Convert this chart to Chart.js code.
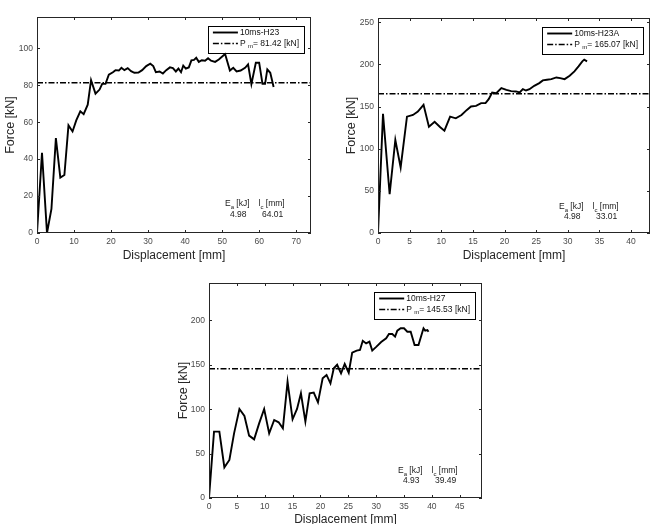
<!DOCTYPE html>
<html><head><meta charset="utf-8">
<script src="https://cdn.jsdelivr.net/npm/chart.js@4.4.0/dist/chart.umd.min.js"></script>
<style>
html,body{margin:0;padding:0;background:#fff;overflow:hidden;width:653px;height:524px;position:relative;}
canvas{position:absolute;}
</style></head><body>
<canvas id="c1"></canvas><canvas id="c2"></canvas><canvas id="c3"></canvas>
<script>
// ---------------- data ----------------
const seriesNames = ['10ms-H23', '10ms-H23A', '10ms-H27'];

const h23Disp  = [0,1.35,2.7,3.9,5.1,6.3,7.4,8.5,9.6,10.6,11.7,12.6,13.7,14.6,15.8,16.9,17.6,18.5,19.4,20.5,21.2,22.1,22.8,23.6,24.5,25.4,26.3,27.4,28.4,29.5,30.6,31.4,32.1,33.1,34.0,34.9,35.9,36.7,37.5,38.2,38.9,39.5,40.2,41.0,41.7,42.4,43.0,43.7,44.5,45.4,46.2,47.0,48.1,49.1,50.8,52.1,53.0,53.9,55.0,56.2,57.0,57.9,59.1,60.0,60.9,61.6,62.2,63.0,63.9];
const h23Force = [0,43.5,0,13,51.4,30,31.4,58.3,55,61,65.9,64.4,69.5,82.8,75.5,77.7,80.8,80.8,85.8,87.1,88.2,88,89.5,88.2,89.3,87.7,86.8,86.9,88.2,90.4,91.7,90.4,87.1,87.5,86.4,88.2,89.7,89.3,87.5,89.1,87.1,90.7,89.1,89.7,93.5,93.8,94.9,92.7,93.6,93.3,94.7,93.3,92.7,94.0,97.0,88.0,89.5,87.5,88.0,89.5,91.3,80.6,92.2,92.2,80.8,80.8,88.6,86.8,79.1];

const h23aDisp  = [0,0.79,1.84,2.74,3.58,4.58,5.53,6.3,7.2,8.05,8.95,9.84,10.5,11.4,12.3,13.2,14.05,14.7,15.5,16.3,17.0,17.5,18.05,18.7,19.5,20.3,21.05,21.8,22.4,22.9,23.4,23.95,24.7,25.5,26.05,26.7,27.4,28.2,28.8,29.5,30.3,31.05,31.7,32.3,32.6,33.05];
const h23aForce = [0,141.3,46,110.3,77.8,138,140,144,152,126,132,125.4,121.4,138,136,140,146,150,150.8,154,154,158.7,166.7,165.9,171.8,169.8,168.3,167.9,166.7,170.6,169,170.6,174.6,177.8,181,181.7,182.5,184.5,183.7,182.5,186.5,191.7,197.6,203.6,205.6,203.6];

const h27Disp  = [0,0.9,1.86,2.76,3.66,4.5,5.46,6.36,7.2,8.1,9.0,9.9,10.8,11.7,12.5,13.26,14.1,15.0,15.8,16.5,17.3,18.06,18.8,19.56,20.4,21.1,21.8,22.4,23.0,23.7,24.36,25.08,25.7,26.5,27.1,27.6,28.2,28.8,29.3,30.06,30.9,31.8,32.3,32.9,33.4,33.8,34.4,35.0,35.6,36.2,36.9,37.6,38.5,38.8,39.2,39.4];
const h27Force = [0,74.7,74.7,34.5,42.8,72.8,100.2,92.3,70.2,66,84,100.2,72.8,87.8,85.2,78.4,131,88.6,100.2,117.8,86,117.8,118.6,107.7,134.7,138.5,129,146,150,140.3,150.8,141,163.6,165.9,166.6,177,174,176,165.9,170.4,175.6,179.7,184.6,184.6,181.6,188.4,191,191,187.2,187.2,172.2,172.2,191,188.4,189,187.2];

const meanForce      = [81.42, 165.07, 145.53];   // P_m [kN]
const absorbedEnergy = ['4.98', '4.98', '4.93'];  // E_a [kJ]
const crushLength    = ['64.01', '33.01', '39.49']; // l_c [mm]

const xTicks1 = [0,10,20,30,40,50,60,70];
const yTicks1 = [0,20,40,60,80,100];
const xTicks2 = [0,5,10,15,20,25,30,35,40];
const yTicks2 = [0,50,100,150,200,250];
const xTicks3 = [0,5,10,15,20,25,30,35,40,45];
const yTicks3 = [0,50,100,150,200];

const xMax = [74, 43, 49];
const yMax = [117, 255, 242];

// ---------------- layout (pixels) ----------------
const FONT = '"Liberation Sans", Arial, Helvetica, sans-serif';
const layouts = [
  {id:'c1', left:0,   top:0,   w:330, h:263, area:{l:37,  t:17,  r:311, b:233}, yTitlePad:3.1,  ann:{dx:86, dy1:29, dy2:18}},
  {id:'c2', left:330, top:0,   w:323, h:263, area:{l:378, t:18,  r:650, b:233}, yTitlePad:14.1, ann:{dx:91, dy1:26, dy2:16}},
  {id:'c3', left:170, top:262, w:330, h:265, area:{l:209, t:283, r:482, b:498}, yTitlePad:6.1,  ann:{dx:84, dy1:27, dy2:17}}
];

const MAIN_PX = 8.5, SUB_PX = 6;
function subText(ctx, x, y, parts) {
  let cx = x;
  for (const [t, sub] of parts) {
    ctx.font = (sub ? SUB_PX : MAIN_PX) + 'px ' + FONT;
    ctx.fillText(t, cx, sub ? y + 3 : y);
    cx += ctx.measureText(t).width;
  }
  return cx - x;
}
function partsWidth(ctx, parts) {
  let w = 0;
  for (const [t, sub] of parts) { ctx.font = (sub ? SUB_PX : MAIN_PX) + 'px ' + FONT; w += ctx.measureText(t).width; }
  return w;
}

const matlabPlugin = {
  id: 'matlabFrame',
  afterDraw(chart, args, opts) {
    const {ctx, chartArea: a, scales: {x, y}} = chart;
    ctx.save();
    // frame and inward ticks on all four sides
    ctx.strokeStyle = '#262626';
    ctx.lineWidth = 1;
    ctx.setLineDash([]);
    const tl = 3;
    ctx.beginPath();
    x.ticks.forEach(t => {
      const px = Math.round(x.getPixelForValue(t.value)) + 0.5;
      ctx.moveTo(px, a.bottom); ctx.lineTo(px, a.bottom - tl);
      ctx.moveTo(px, a.top); ctx.lineTo(px, a.top + tl);
    });
    y.ticks.forEach(t => {
      const py = Math.round(y.getPixelForValue(t.value)) + 0.5;
      ctx.moveTo(a.left, py); ctx.lineTo(a.left + tl, py);
      ctx.moveTo(a.right, py); ctx.lineTo(a.right - tl, py);
    });
    ctx.stroke();
    ctx.strokeRect(a.left + 0.5, a.top + 0.5, a.right - a.left - 1, a.bottom - a.top - 1);

    // legend
    const ds = chart.data.datasets;
    const nameParts = [[ds[0].label, false]];
    const pmParts = [['P', false], [' ', false], ['m', true], ['= ' + opts.pm.toFixed(2) + ' [kN]', false]];
    const textW = Math.max(partsWidth(ctx, nameParts), partsWidth(ctx, pmParts));
    const bw = 33 + textW + 4, bh = 27;
    const bx = a.right - 7 - bw, by = a.top + 8.5;
    ctx.fillStyle = '#fff';
    ctx.fillRect(bx, by, bw, bh);
    ctx.strokeStyle = '#000';
    ctx.lineWidth = 1;
    ctx.strokeRect(Math.round(bx) + 0.5, Math.round(by) + 0.5, Math.round(bw), bh);
    const rows = [by + 7, by + 18];
    ds.forEach((d, i) => {
      ctx.beginPath();
      ctx.strokeStyle = d.borderColor;
      ctx.lineWidth = d.borderWidth;
      ctx.setLineDash(d.borderDash || []);
      ctx.moveTo(bx + 5, rows[i]); ctx.lineTo(bx + 30, rows[i]);
      ctx.stroke();
    });
    ctx.setLineDash([]);
    ctx.fillStyle = '#111';
    ctx.textBaseline = 'middle';
    ctx.textAlign = 'left';
    subText(ctx, bx + 32, rows[0], nameParts);
    subText(ctx, bx + 32, rows[1], pmParts);

    // annotation E_a / l_c
    const an = opts.ann;
    const eParts = [['E', false], ['a', true], [' [kJ]', false]];
    const lParts = [['l', false], ['c', true], [' [mm]', false]];
    const ex = a.right - an.dx;
    const ew = partsWidth(ctx, eParts);
    const lx = ex + ew + 9;
    const lw = partsWidth(ctx, lParts);
    ctx.fillStyle = '#1a1a1a';
    subText(ctx, ex, a.bottom - an.dy1, eParts);
    subText(ctx, lx, a.bottom - an.dy1, lParts);
    ctx.font = MAIN_PX + 'px ' + FONT;
    ctx.textAlign = 'center';
    ctx.fillText(opts.energy, ex + ew / 2 + 1, a.bottom - an.dy2);
    ctx.fillText(opts.length, lx + lw / 2 + 1, a.bottom - an.dy2);
    ctx.restore();
  }
};

function makeChart(i, disp, force, xTicks, yTicks) {
  const L = layouts[i];
  const cv = document.getElementById(L.id);
  cv.width = L.w; cv.height = L.h;
  cv.style.left = L.left + 'px'; cv.style.top = L.top + 'px';
  cv.style.width = L.w + 'px'; cv.style.height = L.h + 'px';
  const A = L.area;
  const padTop = A.t - L.top;
  const padRight = (L.left + L.w) - A.r;
  const yWidth = A.l - L.left;
  const xHeight = (L.top + L.h) - A.b;
  const pts = disp.map((d, k) => ({x: d, y: force[k]}));
  const pm = meanForce[i];
  return new Chart(cv, {
    type: 'line',
    data: {
      datasets: [
        {label: seriesNames[i], data: pts, borderColor: '#000', borderWidth: 1.9, pointRadius: 0, tension: 0, fill: false},
        {label: 'Pm', data: [{x: 0, y: pm}, {x: xMax[i], y: pm}], borderColor: '#000', borderWidth: 1.6, borderDash: [6, 2, 1.5, 2], pointRadius: 0, fill: false}
      ]
    },
    options: {
      responsive: false,
      animation: false,
      devicePixelRatio: 1,
      layout: {padding: {left: 0, top: padTop, right: padRight, bottom: 0}},
      plugins: {
        legend: {display: false},
        tooltip: {enabled: false},
        matlabFrame: {pm: pm, energy: absorbedEnergy[i], length: crushLength[i], ann: L.ann}
      },
      scales: {
        x: {
          type: 'linear', min: 0, max: xMax[i],
          afterBuildTicks: s => { s.ticks = xTicks.map(v => ({value: v})); },
          afterFit: s => { s.height = xHeight; },
          grid: {display: false, drawTicks: false},
          border: {display: false},
          ticks: {font: {family: FONT, size: 8.5}, color: '#4a4a4a', padding: 4, maxRotation: 0, autoSkip: false},
          title: {display: true, text: 'Displacement [mm]', font: {family: FONT, size: 12}, color: '#262626', padding: 0}
        },
        y: {
          type: 'linear', min: 0, max: yMax[i],
          afterBuildTicks: s => { s.ticks = yTicks.map(v => ({value: v})); },
          afterFit: s => { s.width = yWidth; },
          grid: {display: false, drawTicks: false},
          border: {display: false},
          ticks: {font: {family: FONT, size: 8.5}, color: '#4a4a4a', padding: 4, autoSkip: false},
          title: {display: true, text: 'Force [kN]', font: {family: FONT, size: 12.5}, color: '#262626', padding: {top: L.yTitlePad, bottom: 0}}
        }
      }
    },
    plugins: [matlabPlugin]
  });
}

makeChart(0, h23Disp, h23Force, xTicks1, yTicks1);
makeChart(1, h23aDisp, h23aForce, xTicks2, yTicks2);
makeChart(2, h27Disp, h27Force, xTicks3, yTicks3);
</script>
</body></html>
